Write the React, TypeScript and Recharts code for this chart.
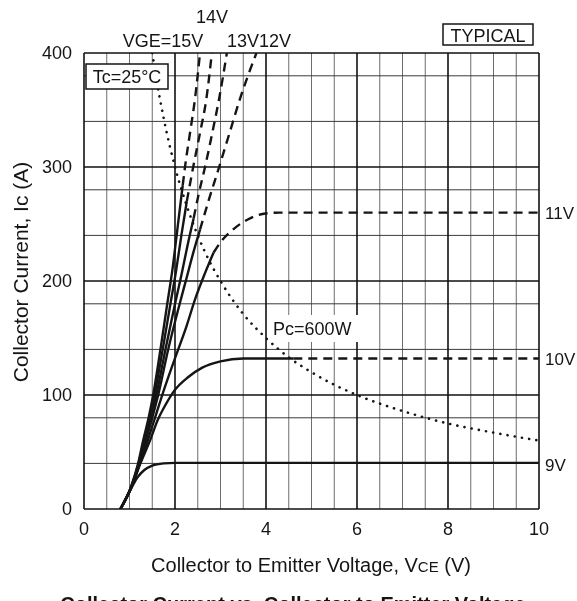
import { LineChart, Line, XAxis, YAxis, CartesianGrid } from "recharts";

type Pt = [number, number];

// VCE (V), IC (A) pairs
const vge15Solid: Pt[] = [[0.8, 0], [1.04, 20], [1.19, 40], [1.3, 60], [1.42, 80], [1.52, 100], [1.68, 140], [1.83, 180], [1.95, 212], [2.06, 248], [2.17, 284]];
const vge15Dash: Pt[] = [[2.17, 284], [2.22, 300], [2.33, 330], [2.44, 360], [2.55, 400]];
const vge14Solid: Pt[] = [[0.8, 0], [1.04, 20], [1.2, 40], [1.32, 60], [1.44, 80], [1.55, 100], [1.73, 140], [1.9, 180], [2.02, 208], [2.14, 240], [2.26, 270]];
const vge14Dash: Pt[] = [[2.26, 270], [2.4, 300], [2.55, 330], [2.69, 360], [2.81, 400]];
const vge13Solid: Pt[] = [[0.8, 0], [1.05, 20], [1.21, 40], [1.34, 60], [1.47, 80], [1.59, 100], [1.79, 140], [1.99, 178], [2.14, 205], [2.28, 232], [2.41, 255]];
const vge13Dash: Pt[] = [[2.41, 255], [2.53, 278], [2.66, 300], [2.82, 330], [2.97, 360], [3.14, 400]];
const vge12Solid: Pt[] = [[0.8, 0], [1.05, 20], [1.22, 40], [1.36, 60], [1.5, 80], [1.63, 100], [1.85, 140], [2.07, 175], [2.25, 202], [2.41, 226], [2.55, 245]];
const vge12Dash: Pt[] = [[2.55, 245], [2.75, 272], [2.97, 300], [3.2, 330], [3.43, 360], [3.79, 400]];
const vge11Solid: Pt[] = [[0.8, 0], [1.05, 20], [1.23, 40], [1.4, 60], [1.56, 80], [1.72, 100], [1.98, 130], [2.25, 160], [2.45, 185], [2.65, 206], [2.85, 225]];
const vge11Dash: Pt[] = [[2.85, 225], [3.0, 234], [3.3, 246], [3.6, 254], [3.95, 259], [4.3, 260], [10, 260]];
const vge10Solid: Pt[] = [[0.8, 0], [1.05, 20], [1.24, 40], [1.45, 60], [1.62, 78], [1.8, 92], [1.97, 103], [2.3, 116], [2.6, 124], [3.0, 129.5], [3.5, 132], [4.6, 132]];
const vge10Dash: Pt[] = [[4.6, 132], [10, 132]];
const vge9: Pt[] = [[0.8, 0], [1.05, 19], [1.18, 28], [1.32, 34], [1.5, 38], [1.75, 40], [2.0, 40.5], [10, 40.5]];
const pcLimit: Pt[] = [[1.5, 400], [1.6, 375], [1.75, 343], [2, 300], [2.25, 267], [2.5, 240], [2.75, 218], [3, 200], [3.5, 171], [4, 150], [4.5, 133], [5, 120], [5.5, 109], [6, 100], [7, 86], [8, 75], [9, 67], [10, 60]];

const xTicks = [0, 2, 4, 6, 8, 10];
const yTicks = [0, 100, 200, 300, 400];
const xMinor = [0.5, 1, 1.5, 2.5, 3, 3.5, 4.5, 5, 5.5, 6.5, 7, 7.5, 8.5, 9, 9.5];
const yMinor = [20, 40, 60, 80, 120, 140, 160, 180, 220, 240, 260, 280, 320, 340, 360, 380];

const FONT = "'Liberation Sans', Arial, Helvetica, sans-serif";
const INK = "#151515";
const W = 569;
const H = 593;

const rows = (pts: Pt[]) => pts.map(([v, i]) => ({ v, i }));

const curve = (pts: Pt[], key: string, dashed = false) => (
  <Line
    key={key}
    data={rows(pts)}
    dataKey="i"
    type="monotone"
    stroke={INK}
    strokeWidth={2.4}
    strokeDasharray={dashed ? "9 6" : undefined}
    dot={false}
    activeDot={false}
    isAnimationActive={false}
  />
);

// text and boxes sit in an svg layered over the chart so they cover the curves
const Annotations = () => (
  <svg width={W} height={H} style={{ position: "absolute", left: 0, top: 0 }}>
    <g fontFamily={FONT} fill={INK}>
      <text x={155} y={39} fontSize={18} textAnchor="middle">VGE=15V</text>
      <text x={204} y={15} fontSize={18} textAnchor="middle">14V</text>
      <text x={219} y={39} fontSize={18}>13V</text>
      <text x={251} y={39} fontSize={18}>12V</text>

      <rect x={78} y={56} width={82} height={25} fill="#fff" stroke={INK} strokeWidth={1.5} />
      <text x={119} y={75} fontSize={18} textAnchor="middle">Tc=25°C</text>

      <rect x={435} y={16} width={90} height={21} fill="#fff" stroke={INK} strokeWidth={1.5} />
      <text x={480} y={34} fontSize={18} textAnchor="middle">TYPICAL</text>

      <rect x={260} y={307} width={92} height={27} fill="#fff" />
      <text x={265} y={327} fontSize={18}>Pc=600W</text>

      <text x={537} y={211} fontSize={17}>11V</text>
      <text x={537} y={357} fontSize={17}>10V</text>
      <text x={537} y={463} fontSize={17}>9V</text>

      <text x={303} y={564} fontSize={20} textAnchor="middle">
        Collector to Emitter Voltage, V<tspan fontSize={15}>CE</tspan> (V)
      </text>
      <text x={20} y={264} fontSize={21} textAnchor="middle" transform="rotate(-90 20 264)">
        Collector Current, Ic (A)
      </text>
      <text x={285} y={603} fontSize={20} fontWeight="bold" textAnchor="middle">
        Collector Current vs. Collector to Emitter Voltage
      </text>
    </g>
  </svg>
);

export default function App() {
  // fixed box so the right-hand labels are not clipped by the body width
  return (
    <div style={{ position: "fixed", left: 8, top: 8, width: W, height: H }}>
      <LineChart width={W} height={H} margin={{ top: 45, right: 38, bottom: 62, left: 0 }}>
        <CartesianGrid verticalValues={xMinor} horizontal={false} stroke="#6e6e6e" strokeWidth={1} />
        <CartesianGrid horizontalValues={yMinor} vertical={false} stroke="#3a3a3a" strokeWidth={1} />
        <CartesianGrid verticalValues={xTicks} horizontalValues={yTicks} stroke="#111" strokeWidth={1.6} />
        <XAxis
          dataKey="v"
          type="number"
          domain={[0, 10]}
          ticks={xTicks}
          allowDataOverflow
          axisLine={false}
          tickLine={false}
          tickSize={0}
          tickMargin={13}
          height={30}
          tick={{ fontSize: 18, fill: INK, fontFamily: FONT }}
        />
        <YAxis
          type="number"
          domain={[0, 400]}
          ticks={yTicks}
          allowDataOverflow
          axisLine={false}
          tickLine={false}
          tickSize={0}
          tickMargin={12}
          width={76}
          tick={{ fontSize: 18, fill: INK, fontFamily: FONT }}
        />
        {curve(vge9, "vge9")}
        {curve(vge10Solid, "vge10s")}
        {curve(vge10Dash, "vge10d", true)}
        {curve(vge11Solid, "vge11s")}
        {curve(vge11Dash, "vge11d", true)}
        {curve(vge12Solid, "vge12s")}
        {curve(vge12Dash, "vge12d", true)}
        {curve(vge13Solid, "vge13s")}
        {curve(vge13Dash, "vge13d", true)}
        {curve(vge14Solid, "vge14s")}
        {curve(vge14Dash, "vge14d", true)}
        {curve(vge15Solid, "vge15s")}
        {curve(vge15Dash, "vge15d", true)}
        <Line
          data={rows(pcLimit)}
          dataKey="i"
          type="monotone"
          stroke={INK}
          strokeWidth={2.6}
          strokeDasharray="0.1 7.2"
          strokeLinecap="round"
          dot={false}
          activeDot={false}
          isAnimationActive={false}
        />
      </LineChart>
      <Annotations />
    </div>
  );
}
